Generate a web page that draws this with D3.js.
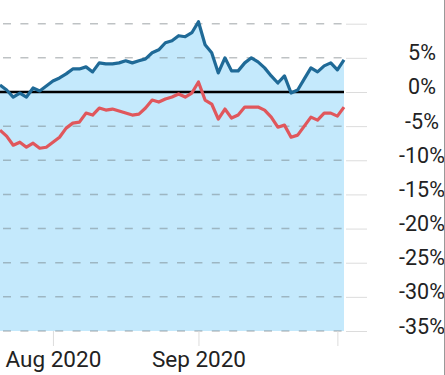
<!DOCTYPE html>
<html>
<head>
<meta charset="utf-8">
<script src="https://cdn.jsdelivr.net/npm/d3@7"></script>
<style>
  html, body { margin: 0; padding: 0; background: #fff; }
  svg { display: block; font-family: Roboto, "Noto Sans", sans-serif; }
</style>
</head>
<body>
<div id="chart"></div>
<script>
// trading-day index, one per point
var blueValues = [1.03, 0.29, -0.74, -0.15, -0.74, 0.59, 0.15, 0.88, 1.62, 2.06,
    2.65, 3.38, 3.38, 3.68, 2.94, 4.26, 4.12, 4.12, 4.26, 4.56,
    4.26, 4.56, 4.85, 5.74, 6.18, 7.21, 7.5, 8.24, 8.09, 8.68,
    10.29, 6.91, 5.74, 2.79, 5.0, 3.09, 3.09, 4.26, 5.0, 4.41,
    3.53, 2.35, 1.32, 2.35, -0.15, 0.29, 1.91, 3.53, 2.94, 3.82,
    4.26, 3.24, 4.71];
var redValues = [-5.59, -6.47, -7.79, -7.35, -8.09, -7.5, -8.24, -8.09, -7.35, -6.62,
    -5.29, -4.56, -4.41, -3.09, -3.38, -2.35, -2.65, -2.5, -2.79, -3.09,
    -3.38, -3.24, -2.35, -1.18, -1.47, -1.03, -0.74, -0.29, -0.74, -0.15,
    1.47, -1.18, -1.76, -3.97, -2.5, -3.82, -3.38, -2.21, -2.21, -2.21,
    -2.65, -3.68, -5.15, -4.85, -6.62, -6.32, -5.0, -3.68, -4.12, -3.09,
    -3.09, -3.53, -2.21];
var xTickIndex = [8, 30, 51];
var xTickLabels = ["Aug 2020", "Sep 2020", ""];
var gridValues = [10, 5, 0, -5, -10, -15, -20, -25, -30, -35];
var yTickValues = [5, 0, -5, -10, -15, -20, -25, -30, -35];

var width = 445, height = 375;
var plot = { left: 0, right: 344, top: 0, bottom: 331 };

var svg = d3.select('#chart').append('svg')
    .attr('width', width)
    .attr('height', height);

var x = d3.scaleLinear()
    .domain([0, blueValues.length - 1])
    .range([plot.left, plot.right]);

var y = d3.scaleLinear()
    .domain([-35, 13.47])
    .range([plot.bottom, plot.top]);

// area under blue line
var area = d3.area()
    .x(function (d, i) { return x(i); })
    .y0(y(-35))
    .y1(function (d) { return y(d); });

svg.append('path')
    .datum(blueValues)
    .attr('fill', '#c4e9fc')
    .attr('d', area);

// dashed grid
svg.append('g')
    .selectAll('line')
    .data(gridValues)
    .join('line')
    .attr('x1', plot.left)
    .attr('x2', plot.right)
    .attr('y1', function (d) { return y(d); })
    .attr('y2', function (d) { return y(d); })
    .attr('stroke', 'rgba(110,120,125,0.45)')
    .attr('stroke-width', 1.5)
    .attr('stroke-dasharray', '8,9.4')
    .attr('stroke-dashoffset', -3);

// right axis
var yAxis = d3.axisRight(y)
    .tickValues(gridValues)
    .tickSize(21)
    .tickPadding(0)
    .tickFormat(function (d) { return yTickValues.indexOf(d) >= 0 ? d + '%' : ''; });

var yg = svg.append('g')
    .attr('transform', 'translate(' + plot.right + ',0)')
    .call(yAxis);
yg.select('.domain').remove();
yg.selectAll('.tick line').attr('stroke', '#dcdcdc').attr('transform', 'translate(2,0)');
yg.selectAll('.tick text')
    .attr('x', 78)
    .attr('dy', 0)
    .attr('y', 2)
    .attr('text-anchor', 'middle')
    .attr('fill', '#222')
    .style('font-size', '21.5px')
    .style('font-family', 'Roboto, sans-serif');

// bottom axis
var xAxis = d3.axisBottom(x)
    .tickValues(xTickIndex)
    .tickSize(15)
    .tickPadding(0)
    .tickFormat(function (d, i) { return xTickLabels[i]; });

var xg = svg.append('g')
    .attr('transform', 'translate(0,' + plot.bottom + ')')
    .call(xAxis);
xg.select('.domain').remove();
xg.selectAll('.tick line').attr('stroke', '#dcdcdc');
xg.selectAll('.tick text')
    .attr('y', 36)
    .attr('dy', 0)
    .attr('fill', '#222')
    .style('font-size', '22.5px')
    .style('font-family', 'Roboto, sans-serif');

// zero line
svg.append('line')
    .attr('x1', plot.left)
    .attr('x2', plot.right)
    .attr('y1', y(0))
    .attr('y2', y(0))
    .attr('stroke', '#000')
    .attr('stroke-width', 2.5);

var line = d3.line()
    .x(function (d, i) { return x(i); })
    .y(function (d) { return y(d); });

svg.append('path')
    .datum(redValues)
    .attr('fill', 'none')
    .attr('stroke', '#e0575c')
    .attr('stroke-width', 3.2)
    .attr('stroke-linejoin', 'round')
    .attr('d', line);

svg.append('path')
    .datum(blueValues)
    .attr('fill', 'none')
    .attr('stroke', '#1f6a97')
    .attr('stroke-width', 3.2)
    .attr('stroke-linejoin', 'round')
    .attr('d', line);

// right border
svg.append('line')
    .attr('x1', 444.5)
    .attr('x2', 444.5)
    .attr('y1', 0)
    .attr('y2', height)
    .attr('stroke', '#999')
    .attr('stroke-width', 1);
</script>
</body>
</html>
